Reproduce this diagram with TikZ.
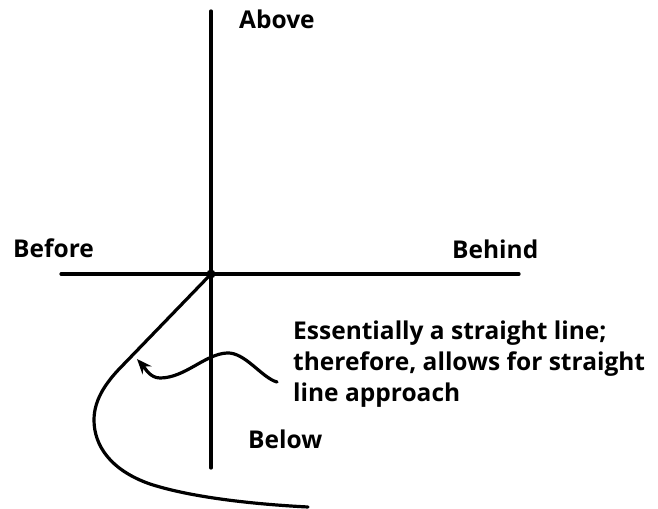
\documentclass[tikz,border=0pt]{standalone}
\usepackage{fontspec}
\setmainfont{Open Sans}
\usetikzlibrary{arrows.meta}

\tikzset{
  axis/.style={line width=3.2bp, line cap=round},
  track/.style={line width=3.2bp, line cap=round, line join=round},
  lbl/.style={inner sep=0pt, font=\fontsize{24.5bp}{31bp}\selectfont\bfseries},
  centre dot/.style={circle, fill, minimum size=9bp, inner sep=0pt}
}

\begin{document}
\begin{tikzpicture}[x=1bp, y=-1bp]
  \useasboundingbox (0,0) rectangle (658,509);
  % axes
  \node[centre dot] (O) at (211,274) {};
  \coordinate (top) at (211,11);
  \coordinate (bottom) at (211,468);
  \coordinate (left) at (61,274);
  \coordinate (right) at (519,274);
  \draw[axis] (top) -- (bottom);
  \draw[axis] (left) -- (right);
  % labels
  \node[lbl, anchor=base west] (above) at (239,29) {Above};
  \node[lbl, anchor=base west] (before) at (13,258) {Before};
  \node[lbl, anchor=base west] (behind) at (452,259) {Behind};
  \node[lbl, anchor=base west] (below) at (248,448) {Below};
  \node[lbl, anchor=west, align=left] (note) at (293,364)
    {Essentially a straight line;\\therefore, allows for straight\\line approach};
  % approach track
  \coordinate (bend) at (124,364);
  \coordinate (far) at (94,420);
  \coordinate (low) at (150,484);
  \coordinate (tail) at (308,507);
  \draw[track] (O.center) -- (bend)
    .. controls (108,380) and (94,398) .. (far)
    .. controls (94,445) and (110,470) .. (low)
    .. controls (190,497) and (250,504) .. (tail);
  % pointer
  \coordinate (wave start) at (277,382);
  \coordinate (wave top) at (227,353);
  \coordinate (wave dip) at (160,378);
  \coordinate (wave tip) at (137,359);
  \draw[track, -{Stealth[length=15bp, width=12bp]}] (wave start)
    .. controls (262,378) and (245,352) .. (wave top)
    .. controls (205,354) and (185,378) .. (wave dip)
    .. controls (150,378) and (145,368) .. (wave tip);
\end{tikzpicture}
\end{document}
